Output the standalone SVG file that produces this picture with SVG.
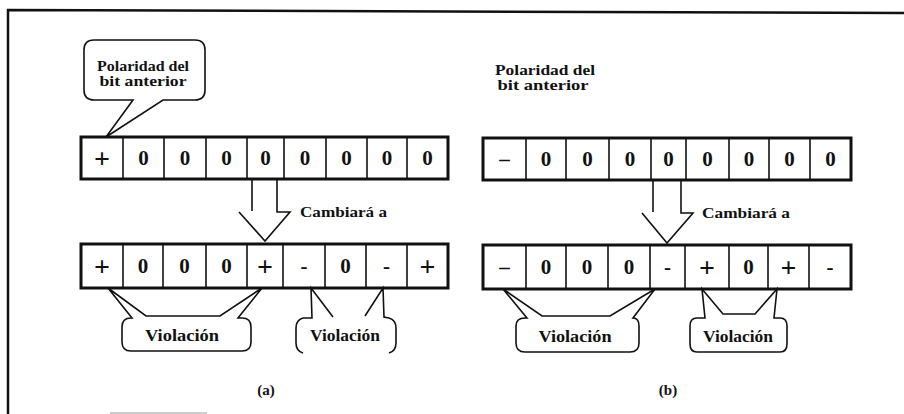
<svg xmlns="http://www.w3.org/2000/svg" width="904" height="414" viewBox="0 0 904 414" font-family="Liberation Serif, Times New Roman, DejaVu Serif, serif">
  <style>
    .frame { fill: none; stroke: #111; stroke-width: 2.5; }
    .outer { fill: #fff; stroke: #111; stroke-width: 3; }
    .div { stroke: #111; stroke-width: 1.6; }
    .ln { fill: none; stroke: #111; stroke-width: 1.6; stroke-linejoin: miter; }
    text { font-family: 'Liberation Serif', 'Times New Roman', 'DejaVu Serif', serif; fill: #111; }
    .bit { font-weight: bold; font-size: 21px; text-anchor: middle; }
    .sign { font-weight: bold; font-size: 28px; text-anchor: middle; }
    .lbl { font-weight: bold; font-size: 15px; }
    .vio { font-weight: bold; font-size: 16px; text-anchor: middle; }
    .mid { text-anchor: middle; }
  </style>

  <!-- page frame -->
  <path class="frame" d="M8,414 L8,10 L904,13"/>
  <line x1="110" y1="413" x2="207" y2="413" stroke="#bbb" stroke-width="1.5"/>

  <!-- (a) register before substitution -->
  <g id="a-before">
    <rect class="outer" x="81" y="137" width="367" height="42"/>
    <g class="div">
      <line x1="123" y1="137" x2="123" y2="179"/>
      <line x1="164" y1="137" x2="164" y2="179"/>
      <line x1="206" y1="137" x2="206" y2="179"/>
      <line x1="247" y1="137" x2="247" y2="179"/>
      <line x1="284" y1="137" x2="284" y2="179"/>
      <line x1="326" y1="137" x2="326" y2="179"/>
      <line x1="367" y1="137" x2="367" y2="179"/>
      <line x1="407" y1="137" x2="407" y2="179"/>
    </g>
    <text class="sign" x="102" y="168">+</text>
    <text class="bit" y="165"><tspan x="143.5">0</tspan><tspan x="185">0</tspan><tspan x="226.5">0</tspan><tspan x="265.5">0</tspan><tspan x="305">0</tspan><tspan x="346.5">0</tspan><tspan x="387">0</tspan><tspan x="427.5">0</tspan></text>
  </g>

  <!-- (a) callout: polarity of previous bit -->
  <g id="a-polarity">
    <path class="ln" d="M133,100 L106,137 L163,100 L195,100 Q205,100 205,90 L205,50 Q205,40 195,40 L94,40 Q84,40 84,50 L84,90 Q84,100 94,100 Z"/>
    <text class="lbl mid" x="143" y="71" textLength="92" lengthAdjust="spacingAndGlyphs">Polaridad del</text>
    <text class="lbl mid" x="143" y="86" textLength="87" lengthAdjust="spacingAndGlyphs">bit anterior</text>
  </g>

  <!-- (a) register after substitution -->
  <g id="a-after">
    <rect class="outer" x="81" y="244" width="367" height="44"/>
    <g class="div">
      <line x1="123" y1="244" x2="123" y2="288"/>
      <line x1="163" y1="244" x2="163" y2="288"/>
      <line x1="206" y1="244" x2="206" y2="288"/>
      <line x1="247" y1="244" x2="247" y2="288"/>
      <line x1="283" y1="244" x2="283" y2="288"/>
      <line x1="325" y1="244" x2="325" y2="288"/>
      <line x1="366" y1="244" x2="366" y2="288"/>
      <line x1="407" y1="244" x2="407" y2="288"/>
    </g>
    <text class="sign" y="276"><tspan x="102">+</tspan><tspan x="265">+</tspan><tspan x="427.5">+</tspan></text>
    <text class="bit" y="273"><tspan x="143">0</tspan><tspan x="184.5">0</tspan><tspan x="226.5">0</tspan><tspan x="304">-</tspan><tspan x="345.5">0</tspan><tspan x="386.5">-</tspan></text>
  </g>

  <!-- (a) violation callouts -->
  <g id="a-violation-1">
    <path class="ln" d="M132,318 L108,288 L146,316 L220,316 L262,288 L238,318 L242,318 Q251,318 251,327 L251,342 Q251,351 242,351 L131,351 Q122,351 122,342 L122,327 Q122,318 131,318 Z"/>
    <text class="vio" x="182" y="341" textLength="74" lengthAdjust="spacingAndGlyphs">Violación</text>
  </g>
  <g id="a-violation-2">
    <path class="ln" d="M303,353 Q296,351 296,343 L296,328 Q296,320 303,318 L312,318 L311,288 L333,317"/>
    <path class="ln" d="M365,316 L383,288 L384,317 L389,318 Q396,320 396,328 L396,343 Q396,351 389,353"/>
    <text class="vio" x="345" y="341" textLength="70" lengthAdjust="spacingAndGlyphs">Violación</text>
  </g>
  <text class="lbl mid" x="266" y="395">(a)</text>

  <!-- (b) register before substitution -->
  <g id="b-before">
    <rect class="outer" x="483" y="138" width="368" height="42"/>
    <g class="div">
      <line x1="526" y1="138" x2="526" y2="180"/>
      <line x1="566" y1="138" x2="566" y2="180"/>
      <line x1="609" y1="138" x2="609" y2="180"/>
      <line x1="651" y1="138" x2="651" y2="180"/>
      <line x1="686" y1="138" x2="686" y2="180"/>
      <line x1="729" y1="138" x2="729" y2="180"/>
      <line x1="769" y1="138" x2="769" y2="180"/>
      <line x1="810" y1="138" x2="810" y2="180"/>
    </g>
    <text class="bit" y="166"><tspan x="504.5">–</tspan><tspan x="546">0</tspan><tspan x="587.5">0</tspan><tspan x="630">0</tspan><tspan x="668.5">0</tspan><tspan x="707.5">0</tspan><tspan x="749">0</tspan><tspan x="789.5">0</tspan><tspan x="830.5">0</tspan></text>
  </g>

  <!-- (b) polarity note -->
  <g id="b-polarity">
    <text class="lbl mid" x="545" y="75" textLength="100" lengthAdjust="spacingAndGlyphs">Polaridad del</text>
    <text class="lbl mid" x="543" y="90" textLength="91" lengthAdjust="spacingAndGlyphs">bit anterior</text>
  </g>

  <!-- (b) register after substitution -->
  <g id="b-after">
    <rect class="outer" x="483" y="245" width="368" height="44"/>
    <g class="div">
      <line x1="526" y1="245" x2="526" y2="289"/>
      <line x1="566" y1="245" x2="566" y2="289"/>
      <line x1="608" y1="245" x2="608" y2="289"/>
      <line x1="650" y1="245" x2="650" y2="289"/>
      <line x1="685" y1="245" x2="685" y2="289"/>
      <line x1="729" y1="245" x2="729" y2="289"/>
      <line x1="768" y1="245" x2="768" y2="289"/>
      <line x1="809" y1="245" x2="809" y2="289"/>
    </g>
    <text class="sign" y="277"><tspan x="707">+</tspan><tspan x="788.5">+</tspan></text>
    <text class="bit" y="274"><tspan x="504.5">–</tspan><tspan x="546">0</tspan><tspan x="587">0</tspan><tspan x="629">0</tspan><tspan x="667.5">-</tspan><tspan x="748.5">0</tspan><tspan x="830">-</tspan></text>
  </g>

  <!-- (b) violation callouts -->
  <g id="b-violation-1">
    <path class="ln" d="M527,318 L503,289 L542,316 L610,316 L655,289 L633,318 Q639,318 639,326 L639,343 Q639,352 630,352 L525,352 Q516,352 516,343 L516,326 Q516,318 525,318 Z"/>
    <text class="vio" x="575" y="342" textLength="73" lengthAdjust="spacingAndGlyphs">Violación</text>
  </g>
  <g id="b-violation-2">
    <path class="ln" d="M705,318 L702,289 L723,314 L755,314 L777,289 L774,318 L780,318 Q787,318 787,326 L787,344 Q787,352 780,352 L697,352 Q690,352 690,344 L690,326 Q690,318 697,318 Z"/>
    <text class="vio" x="738" y="342" textLength="70" lengthAdjust="spacingAndGlyphs">Violación</text>
  </g>
  <text class="lbl mid" x="668" y="395">(b)</text>

  <!-- substitution arrows -->
  <g id="connectors">
    <path class="ln" d="M252,179 L252,211"/>
    <path class="ln" d="M277,179 L277,212 L290,212 L265,241 L239,212"/>
    <text class="lbl" x="300" y="217" textLength="87" lengthAdjust="spacingAndGlyphs">Cambiará a</text>
    <path class="ln" d="M653,180 L653,212"/>
    <path class="ln" d="M681,180 L681,213 L693,213 L667,243 L642,213"/>
    <text class="lbl" x="702" y="218" textLength="88" lengthAdjust="spacingAndGlyphs">Cambiará a</text>
  </g>
</svg>
